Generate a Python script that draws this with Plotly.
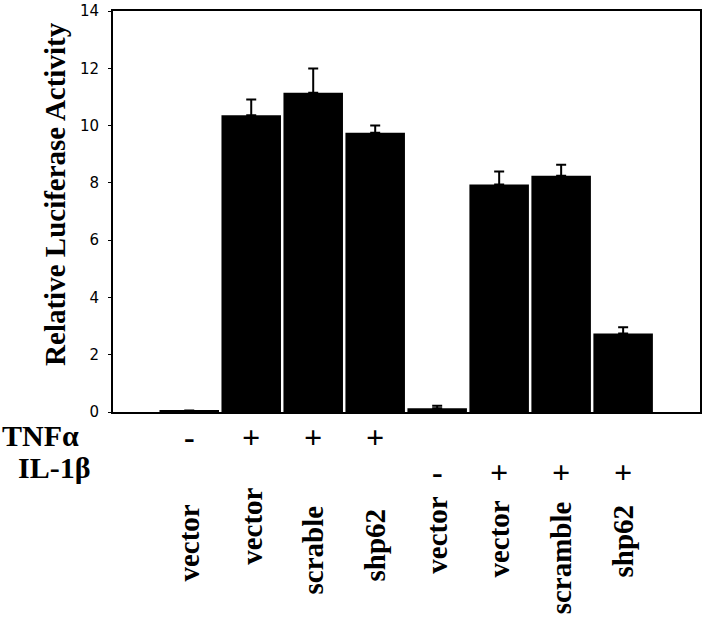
import plotly.graph_objects as go

# ---- data ----
categories = ["c1", "c2", "c3", "c4", "c5", "c6", "c7", "c8"]
construct_labels = ["vector", "vector", "scrable", "shp62",
                    "vector", "vector", "scramble", "shp62"]
tnf_labels = ["-", "+", "+", "+", "", "", "", ""]
il1b_labels = ["", "", "", "", "-", "+", "+", "+"]
luciferase_mean = [0.05, 10.36, 11.15, 9.75, 0.13, 7.94, 8.25, 2.74]
luciferase_err = [0.0, 0.55, 0.84, 0.25, 0.09, 0.46, 0.38, 0.22]
y_ticks = [0, 2, 4, 6, 8, 10, 12, 14]

# ---- layout constants (pixels) ----
W, H = 704, 617
L, R, T, B = 113, 2, 6, 205
plot_h = H - T - B
label_center_px = [545, 528, 552, 547, 537, 541, 560, 543]

def py_to_paper(py):
    return (H - B - py) / plot_h

def px_to_paper(px):
    return (px - L) / (W - L - R)

serif = "Liberation Serif, Times New Roman, serif"

xpos = list(range(len(categories)))

fig = go.Figure()
fig.add_trace(go.Bar(
    x=xpos,
    y=luciferase_mean,
    marker=dict(color="black", line=dict(width=0)),
    error_y=dict(type="data", symmetric=False, array=luciferase_err,
                 arrayminus=[0] * len(luciferase_err),
                 color="black", thickness=2, width=5),
    showlegend=False,
    hoverinfo="skip",
))

annotations = []
# y-axis title
annotations.append(dict(
    text="<b>Relative Luciferase Activity</b>", textangle=-90,
    xref="paper", yref="paper", x=px_to_paper(55), y=py_to_paper(191),
    xanchor="center", yanchor="middle", showarrow=False,
    font=dict(family=serif, size=29, color="black")))
# row titles
annotations.append(dict(
    text="<b>TNFα</b>", xref="paper", yref="paper",
    x=px_to_paper(0), y=py_to_paper(436), xanchor="left", yanchor="middle",
    showarrow=False, font=dict(family=serif, size=30, color="black")))
annotations.append(dict(
    text="<b>IL-1β</b>", xref="paper", yref="paper",
    x=px_to_paper(16), y=py_to_paper(468), xanchor="left", yanchor="middle",
    showarrow=False, font=dict(family=serif, size=30, color="black")))
# +/- signs
for i, (t, il) in enumerate(zip(tnf_labels, il1b_labels)):
    if t:
        annotations.append(dict(
            text="<b>%s</b>" % t, xref="x", yref="paper", x=xpos[i], y=py_to_paper(437),
            xanchor="center", yanchor="middle", showarrow=False,
            font=dict(family=serif, size=32, color="black")))
    if il:
        annotations.append(dict(
            text="<b>%s</b>" % il, xref="x", yref="paper", x=xpos[i], y=py_to_paper(473),
            xanchor="center", yanchor="middle", showarrow=False,
            font=dict(family=serif, size=32, color="black")))
# construct labels
for i, name in enumerate(construct_labels):
    annotations.append(dict(
        text="<b>%s</b>" % name, textangle=-90,
        xref="x", yref="paper", x=xpos[i], y=py_to_paper(label_center_px[i]),
        xanchor="center", yanchor="middle", showarrow=False,
        font=dict(family=serif, size=29, color="black")))

fig.update_layout(
    width=W, height=H,
    margin=dict(l=L, r=R, t=T, b=B, pad=0),
    paper_bgcolor="white", plot_bgcolor="white",
    bargap=0.04,
    annotations=annotations,
    xaxis=dict(range=[-1.23, 8.24], showticklabels=False, ticks="",
               showgrid=False, zeroline=False,
               showline=True, linecolor="black", linewidth=2, mirror=True),
    yaxis=dict(range=[0, 14], tickvals=y_ticks, ticktext=[str(v) for v in y_ticks],
               ticks="outside", ticklen=3, tickcolor="black", tickwidth=1,
               ticklabelstandoff=6, ticklabeloverflow="allow",
               tickfont=dict(family="DejaVu Sans, Verdana, sans-serif", size=15, color="black"),
               showgrid=False, zeroline=False,
               showline=True, linecolor="black", linewidth=2, mirror=True),
)

fig.write_html("out.html",
               config={"displayModeBar": False},
               post_script="document.body.style.margin='0';document.body.style.overflow='hidden';")
